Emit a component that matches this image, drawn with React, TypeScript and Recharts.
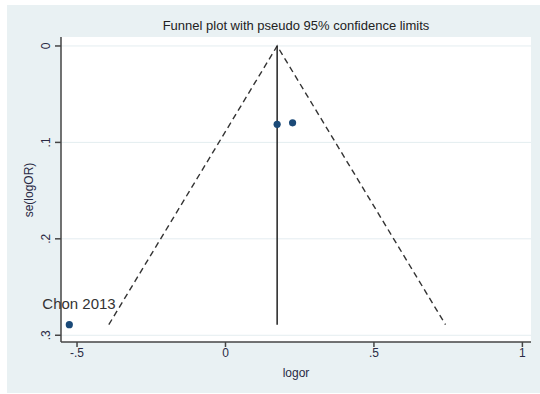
import React from 'react';
import { ScatterChart, Scatter, XAxis, YAxis, CartesianGrid } from 'recharts';

// Study estimates (logor, se)
const studyNames = ['', '', 'Chon 2013'];
const studyLogor = [0.174, 0.226, -0.526];
const studySe = [0.0813, 0.0797, 0.289];

// Pooled estimate line and pseudo 95% limits
const pooledLogor = 0.174;
const maxSe = 0.289;
const lowerLimitAtMaxSe = -0.393;
const upperLimitAtMaxSe = 0.741;

const xTicks = [-0.5, 0, 0.5, 1];
const xTickLabels = ['-.5', '0', '.5', '1'];
const yTicks = [0, 0.1, 0.2, 0.3];
const yTickLabels = ['0', '.1', '.2', '.3'];

const studies = studyLogor.map((x, i) => ({ x, y: studySe[i], name: studyNames[i] }));
const funnel = [
  { x: lowerLimitAtMaxSe, y: maxSe },
  { x: pooledLogor, y: 0 },
  { x: upperLimitAtMaxSe, y: maxSe },
];
const pooledLine = [
  { x: pooledLogor, y: 0 },
  { x: pooledLogor, y: maxSe },
];

const FONT = '"Liberation Sans", Arial, sans-serif';
const TICK_COLOR = '#2a2a44';

const XTick = (props: any) => {
  const { x, y, payload } = props;
  const idx = xTicks.indexOf(payload.value);
  return (
    <text x={x} y={y + 8} textAnchor="middle" fontSize={12} fill={TICK_COLOR} fontFamily={FONT}>
      {xTickLabels[idx] ?? payload.value}
    </text>
  );
};

const YTick = (props: any) => {
  const { x, y, payload } = props;
  const idx = yTicks.indexOf(payload.value);
  const cx = x - 7;
  return (
    <text
      x={cx}
      y={y}
      textAnchor="middle"
      dominantBaseline="central"
      fontSize={12}
      fill={TICK_COLOR}
      fontFamily={FONT}
      transform={`rotate(-90 ${cx} ${y})`}
    >
      {yTickLabels[idx] ?? payload.value}
    </text>
  );
};

const StudyDot = (props: any) => {
  const { cx, cy, payload } = props;
  return (
    <g>
      <circle cx={cx} cy={cy} r={3.6} fill="#1b4a78" />
      {payload.name ? (
        <text x={cx - 27} y={cy - 16} fontSize={15} fill="#333" fontFamily={FONT}>
          {payload.name}
        </text>
      ) : null}
    </g>
  );
};

const NoShape = () => <g />;

export default function App() {
  return (
    <div
      style={{
        position: 'absolute',
        left: 7,
        top: 5,
        width: 533,
        height: 388,
        background: '#e9f1f3',
        fontFamily: FONT,
      }}
    >
      <div
        style={{
          position: 'absolute',
          left: 54,
          width: 470,
          top: 13,
          textAlign: 'center',
          fontSize: 13,
          color: '#222',
          fontFamily: FONT,
          lineHeight: '16px',
        }}
      >
        Funnel plot with pseudo 95% confidence limits
      </div>
      <ScatterChart width={533} height={388} margin={{ top: 32, right: 9, bottom: 21, left: 14 }}>
        <CartesianGrid vertical={false} stroke="#e4edf0" fill="#ffffff" horizontalValues={yTicks} />
        <XAxis
          type="number"
          dataKey="x"
          domain={[-0.554, 1.029]}
          ticks={xTicks}
          height={30}
          tickSize={5}
          axisLine={{ stroke: '#444', strokeWidth: 1.5 }}
          tickLine={{ stroke: '#444', strokeWidth: 1.5 }}
          tick={<XTick />}
          label={{
            content: () => (
              <text x={289} y={372} textAnchor="middle" fontSize={12} fill={TICK_COLOR} fontFamily={FONT}>
                logor
              </text>
            ),
          }}
        />
        <YAxis
          type="number"
          dataKey="y"
          reversed
          domain={[-0.0093, 0.307]}
          ticks={yTicks}
          width={40}
          tickSize={6}
          axisLine={{ stroke: '#444', strokeWidth: 1.5 }}
          tickLine={{ stroke: '#444', strokeWidth: 1.5 }}
          tick={<YTick />}
          label={{
            content: () => (
              <text
                x={22}
                y={185}
                textAnchor="middle"
                dominantBaseline="central"
                fontSize={12}
                fill={TICK_COLOR}
                fontFamily={FONT}
                transform="rotate(-90 22 185)"
              >
                se(logOR)
              </text>
            ),
          }}
        />
        <Scatter
          data={funnel}
          line={{ stroke: '#333', strokeWidth: 1.4, strokeDasharray: '6 4' }}
          shape={<NoShape />}
          isAnimationActive={false}
        />
        <Scatter
          data={pooledLine}
          line={{ stroke: '#222', strokeWidth: 1.5 }}
          shape={<NoShape />}
          isAnimationActive={false}
        />
        <Scatter data={studies} shape={<StudyDot />} isAnimationActive={false} />
      </ScatterChart>
    </div>
  );
}
